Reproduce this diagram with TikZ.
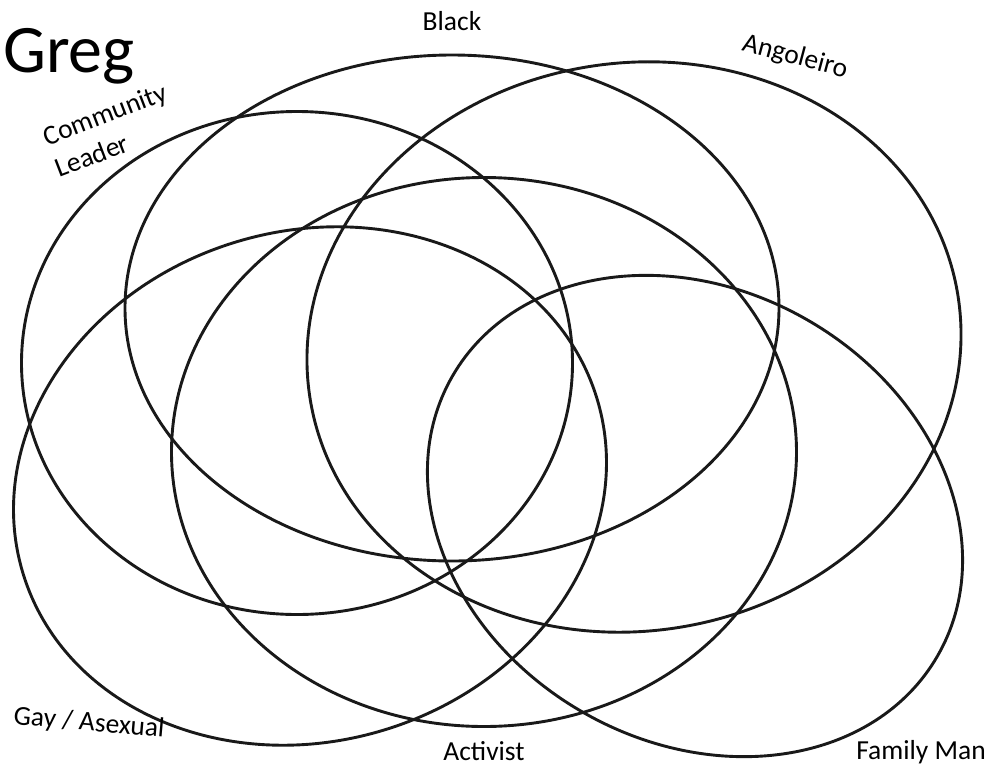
\documentclass[tikz,border=0pt]{standalone}
\usepackage{fontspec}
\setmainfont{Carlito}
\usetikzlibrary{shapes.geometric, positioning}

\begin{document}
\begin{tikzpicture}[x=1pt, y=-1pt,
  ring/.style={ellipse, draw=black!90, line width=2.9pt, inner sep=0pt, outer sep=0pt},
  lbl/.style={font=\fontsize{27.5}{34}\selectfont, inner sep=0pt, text=black}
]
  \useasboundingbox (0,0) rectangle (994,769);

  % the six sets
  \node[ring, minimum width=654pt, minimum height=506pt] (black) at (452,308) {};
  \node[ring, minimum width=656pt, minimum height=568pt, rotate=9] (angoleiro) at (634,347) {};
  \node[ring, minimum width=551pt, minimum height=503pt] (leader) at (297,363) {};
  \node[ring, minimum width=600pt, minimum height=510pt, rotate=17] (gay) at (310,486) {};
  \node[ring, minimum width=625pt, minimum height=549pt] (activist) at (484,452) {};
  \node[ring, minimum width=560pt, minimum height=452pt, rotate=-30] (family) at (695,516) {};

  % labels
  \node[lbl, font=\fontsize{68}{80}\selectfont, anchor=base west] (greg) at (3,72) {Greg};
  \node[lbl, above=24pt of black] (blacktxt) {Black};
  \node[lbl, anchor=base west, rotate=-15] (angtxt) at (741,50) {Angoleiro};
  \node[lbl, align=left, rotate=21] (leadertxt) at (111,130) {Community\\Leader};
  \node[lbl, anchor=base west, rotate=-5] (gaytxt) at (13,724) {Gay / Asexual};
  \node[lbl, below=15pt of activist] (acttxt) {Activist};
  \node[lbl, anchor=base] (famtxt) at (921,759) {Family Man};
\end{tikzpicture}
\end{document}
